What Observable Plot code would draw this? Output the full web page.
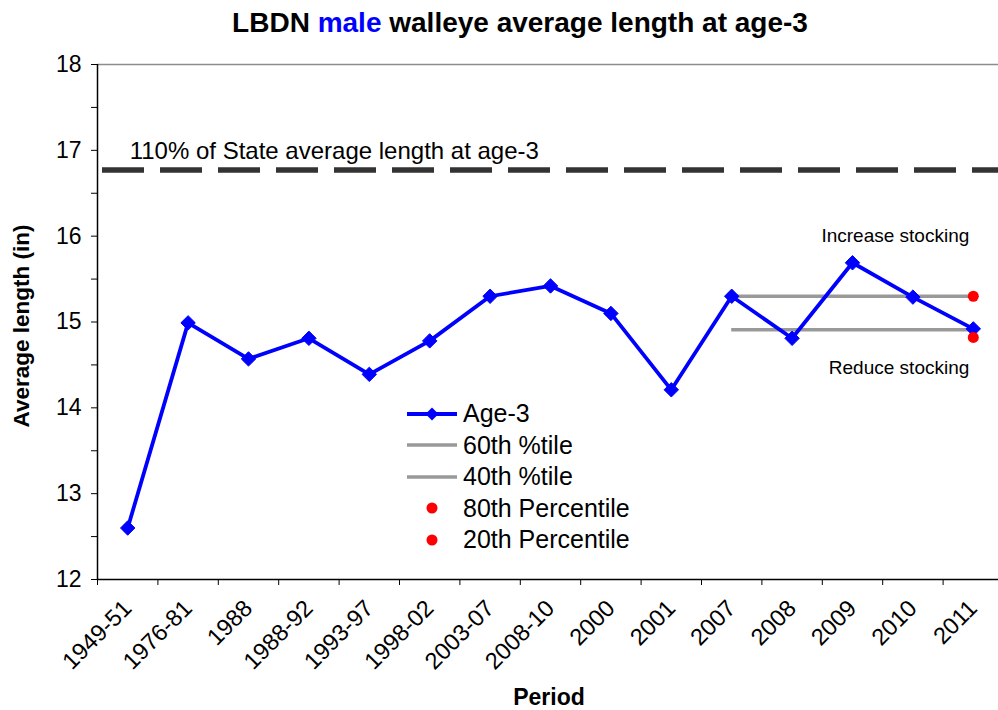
<!DOCTYPE html>
<html>
<head>
<meta charset="utf-8">
<script src="https://cdn.jsdelivr.net/npm/d3@7"></script>
<script src="https://cdn.jsdelivr.net/npm/@observablehq/plot@0.6"></script>
<style>
  html, body { margin: 0; padding: 0; background: #fff; }
  body { width: 998px; height: 710px; overflow: hidden; font-family: "Liberation Sans", Arial, sans-serif; }
  #wrap { position: relative; width: 998px; height: 710px; }
  #title { position: absolute; left: 21px; top: 0; width: 998px; height: 50px; line-height: 46px; text-align: center; font-weight: bold; font-size: 28px; color: #000; }
  #title .male { color: #0000ff; }
  #chart { position: absolute; left: 0; top: 50px; }
  #legend { position: absolute; left: 405px; top: 398px; font-size: 25px; color: #000; }
  #legend .row { display: flex; align-items: center; height: 31.5px; }
  #legend svg { width: 54px; height: 20px; margin-right: 4px; }
  #ytitle { position: absolute; left: 22px; top: 326px; transform: translate(-50%, -50%) rotate(-90deg); white-space: nowrap; font-weight: bold; font-size: 22.5px; color: #000; }
  #xtitle { position: absolute; left: 549px; top: 697px; transform: translate(-50%, -50%); white-space: nowrap; font-weight: bold; font-size: 23px; color: #000; }
</style>
</head>
<body>
<div id="wrap">
  <div id="title">LBDN <span class="male">male</span> walleye average length at age-3</div>
  <div id="chart"></div>
  <div id="legend"></div>
  <div id="ytitle">Average length (in)</div>
  <div id="xtitle">Period</div>
</div>
<script>
// ---- data ----
const periods = ["1949-51","1976-81","1988","1988-92","1993-97","1998-02","2003-07","2008-10","2000","2001","2007","2008","2009","2010","2011"];
const age3 = [12.60, 14.99, 14.57, 14.81, 14.39, 14.78, 15.30, 15.42, 15.10, 14.21, 15.30, 14.81, 15.69, 15.29, 14.92];
const pct60 = 15.30;
const pct40 = 14.91;
const pct80 = 15.30;
const pct20 = 14.82;
const stateLine = 16.77;
const pctStart = "2007";
const pctEnd = "2011";
const yTicks = [12, 12.5, 13, 13.5, 14, 14.5, 15, 15.5, 16, 16.5, 17, 17.5, 18];
const legendItems = ["Age-3", "60th %tile", "40th %tile", "80th Percentile", "20th Percentile"];

const rows = periods.map((p, i) => ({period: p, i, value: age3[i]}));
const iStart = periods.indexOf(pctStart);
const iEnd = periods.indexOf(pctEnd);
const boundaries = d3.range(periods.length + 1).map(i => i - 0.5);

const font = '"Liberation Sans", Arial, sans-serif';

const chart = Plot.plot({
  width: 998,
  height: 660,
  marginTop: 14,
  marginBottom: 131,
  marginLeft: 97,
  marginRight: 0,
  style: {fontFamily: font, background: "white", overflow: "visible"},
  x: {domain: [-0.5, periods.length - 0.5], range: [97, 1003]},
  y: {domain: [12, 18]},
  marks: [
    // frame line at top
    Plot.ruleY([18], {stroke: "#8c8c8c", strokeWidth: 1.5}),
    // state reference line
    Plot.ruleY([stateLine], {stroke: "#333333", strokeWidth: 5.5, strokeDasharray: "42,16", strokeDashoffset: -5}),
    Plot.text(["110% of State average length at age-3"], {x: 0, y: stateLine, text: d => d, textAnchor: "start", lineAnchor: "bottom", dx: 2, dy: -11, fontSize: 24, fill: "#000"}),
    // percentile lines
    Plot.ruleY([pct60, pct40], {x1: iStart, x2: iEnd, stroke: "#999999", strokeWidth: 3.5}),
    // series
    Plot.line(rows, {x: "i", y: "value", stroke: "#0000ff", strokeWidth: 3.8}),
    Plot.dot(rows, {x: "i", y: "value", symbol: "diamond2", r: 6.5, fill: "#0000ff", stroke: "#0000ff", strokeWidth: 1}),
    Plot.dot([pct80, pct20], {x: iEnd, y: d => d, r: 5.5, fill: "#ff0000"}),
    // annotations
    Plot.text(["Increase stocking"], {x: iEnd, y: 16, text: d => d, textAnchor: "end", dx: -4, fontSize: 19, fill: "#000"}),
    Plot.text(["Reduce stocking"], {x: iEnd, y: 14.47, text: d => d, textAnchor: "end", dx: -4, fontSize: 19, fill: "#000"}),
    // axes
    Plot.axisY({ticks: yTicks, tickSize: 6, tickPadding: 10, fontSize: 23, tickFormat: d => Number.isInteger(d) ? d : "", label: null}),
    Plot.ruleX([-0.5], {stroke: "#000", strokeWidth: 1.5}),
    Plot.ruleY([12], {stroke: "#000", strokeWidth: 1.5}),
    Plot.axisX({ticks: boundaries, tickSize: 6, tickFormat: () => "", label: null}),
    Plot.axisX({ticks: d3.range(periods.length), tickSize: 0, tickPadding: 25, tickRotate: -45, fontSize: 23.5, tickFormat: i => periods[i], label: null})
  ]
});
document.getElementById("chart").appendChild(chart);

// legend
const sym = [
  `<line x1="2" y1="10" x2="52" y2="10" stroke="#0000ff" stroke-width="3.8"/><path d="M27,3.5 L33.5,10 L27,16.5 L20.5,10 Z" fill="#0000ff"/>`,
  `<line x1="2" y1="10" x2="52" y2="10" stroke="#999999" stroke-width="3.5"/>`,
  `<line x1="2" y1="10" x2="52" y2="10" stroke="#999999" stroke-width="3.5"/>`,
  `<circle cx="27" cy="10" r="5.5" fill="#ff0000"/>`,
  `<circle cx="27" cy="10" r="5.5" fill="#ff0000"/>`
];
const leg = document.getElementById("legend");
legendItems.forEach((t, k) => {
  const row = document.createElement("div");
  row.className = "row";
  row.innerHTML = `<svg viewBox="0 0 54 20">${sym[k]}</svg><span>${t}</span>`;
  leg.appendChild(row);
});
</script>
</body>
</html>
